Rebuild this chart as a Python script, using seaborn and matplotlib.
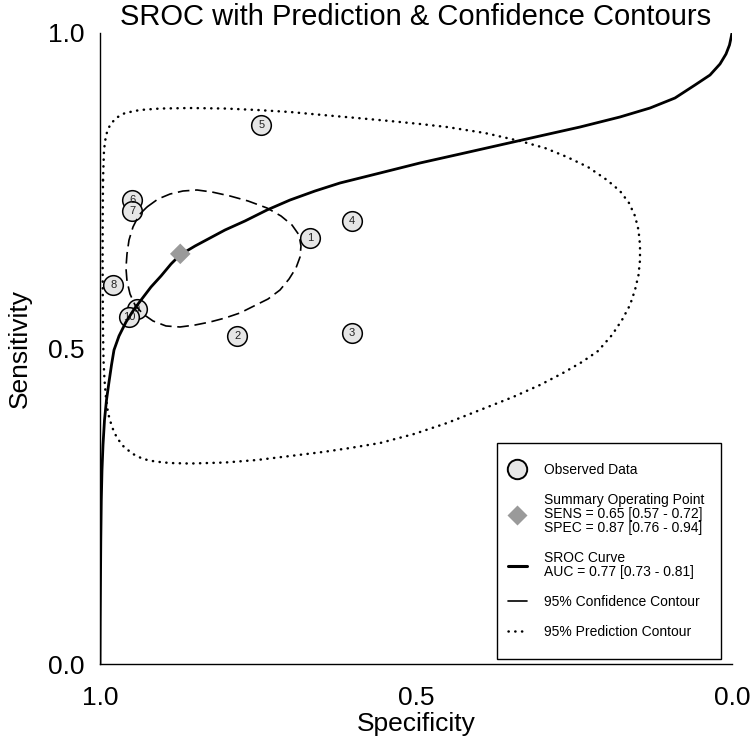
import numpy as np
import pandas as pd
import seaborn as sns
import matplotlib
matplotlib.use("Agg")
import matplotlib.pyplot as plt
from matplotlib.lines import Line2D
from matplotlib.patches import Rectangle

# ---------------- data ----------------
study_ids = ["1", "2", "3", "4", "5", "6", "7", "8", "9", "10"]
study_spec = [0.668, 0.783, 0.601, 0.601, 0.745, 0.949, 0.949, 0.979, 0.942, 0.954]
study_sens = [0.675, 0.520, 0.525, 0.702, 0.854, 0.735, 0.718, 0.601, 0.563, 0.550]

summary_spec = [0.873]
summary_sens = [0.650]

sroc_spec = [1.0, 0.99968, 0.99921, 0.99873, 0.99794, 0.99684, 0.99525, 0.99288,
             0.98972, 0.98576, 0.98180, 0.97785, 0.96994, 0.95886, 0.94620, 0.93354,
             0.91930, 0.90348, 0.88766, 0.87342, 0.84968, 0.82595, 0.80222, 0.77057,
             0.73576, 0.69937, 0.65981, 0.62025, 0.55696, 0.49367, 0.43038, 0.36709,
             0.30380, 0.24051, 0.17722, 0.12975, 0.09019, 0.05854, 0.03481, 0.01899,
             0.00949, 0.00396, 0.00158, 0.0]
sroc_sens = [0.0, 0.0697, 0.1331, 0.1965, 0.2599, 0.3074, 0.3471, 0.3867,
             0.4184, 0.4469, 0.4739, 0.4976, 0.5198, 0.5420, 0.5620, 0.5788,
             0.5975, 0.6149, 0.6339, 0.6482, 0.6624, 0.6751, 0.6878, 0.7021,
             0.7195, 0.7353, 0.7496, 0.7623, 0.7781, 0.7940, 0.8082, 0.8225,
             0.8368, 0.8510, 0.8669, 0.8811, 0.8970, 0.9176, 0.9334, 0.9509,
             0.9667, 0.9810, 0.9921, 1.0]

conf_spec = [0.9256, 0.9082, 0.8892, 0.8687, 0.8465, 0.8228, 0.7943, 0.7658, 0.7358,
             0.7136, 0.6962, 0.6851, 0.6820, 0.6835, 0.6899, 0.7009, 0.7152, 0.7342,
             0.7563, 0.7785, 0.8022, 0.8259, 0.8497, 0.8734, 0.8956, 0.9161, 0.9320,
             0.9446, 0.9525, 0.9573, 0.9589, 0.9573, 0.9541, 0.9478, 0.9383, 0.9256]
conf_sens = [0.7243, 0.7369, 0.7448, 0.7496, 0.7512, 0.7480, 0.7417, 0.7338, 0.7227,
             0.7100, 0.6957, 0.6799, 0.6624, 0.6450, 0.6276, 0.6101, 0.5927, 0.5784,
             0.5674, 0.5563, 0.5483, 0.5420, 0.5372, 0.5341, 0.5357, 0.5436, 0.5547,
             0.5689, 0.5864, 0.6070, 0.6276, 0.6498, 0.6719, 0.6926, 0.7116, 0.7243]

pred_spec = [0.99525, 0.99367, 0.99051, 0.98418, 0.97468, 0.96044, 0.93671, 0.90506,
             0.85759, 0.80222, 0.75158, 0.69937, 0.64715, 0.59335, 0.54114, 0.49367,
             0.45095, 0.39082, 0.33544, 0.29589, 0.26108, 0.22785, 0.19778, 0.17722,
             0.16297, 0.15348, 0.14794, 0.14557, 0.14557, 0.14794, 0.15348, 0.16139,
             0.17405, 0.18987, 0.21203, 0.23734, 0.26741, 0.30380, 0.34652, 0.39873,
             0.45095, 0.50316, 0.55696, 0.60443, 0.64715, 0.69937, 0.75158, 0.80222,
             0.85759, 0.88924, 0.91297, 0.93196, 0.94778, 0.96203, 0.97310, 0.98101,
             0.98734, 0.99051, 0.99288, 0.99446, 0.99525, 0.99557, 0.99589, 0.99573,
             0.99525]
pred_sens = [0.7670, 0.8146, 0.8383, 0.8542, 0.8653, 0.8732, 0.8780, 0.8803,
             0.8811, 0.8803, 0.8780, 0.8748, 0.8700, 0.8653, 0.8605, 0.8558,
             0.8510, 0.8415, 0.8288, 0.8177, 0.8035, 0.7876, 0.7670, 0.7496,
             0.7306, 0.7100, 0.6878, 0.6640, 0.6403, 0.6165, 0.5927, 0.5689,
             0.5452, 0.5214, 0.4960, 0.4786, 0.4612, 0.4422, 0.4231, 0.4025,
             0.3819, 0.3645, 0.3502, 0.3423, 0.3360, 0.3296, 0.3233, 0.3193,
             0.3177, 0.3185, 0.3209, 0.3249, 0.3328, 0.3439, 0.3582, 0.3756,
             0.3978, 0.4216, 0.4501, 0.4818, 0.5293, 0.5769, 0.6403, 0.7036,
             0.7670]

axis_ticks = [1.0, 0.5, 0.0]
axis_tick_labels = ["1.0", "0.5", "0.0"]
legend_labels = [
    "Observed Data",
    "Summary Operating Point\nSENS = 0.65 [0.57 - 0.72]\nSPEC = 0.87 [0.76 - 0.94]",
    "SROC Curve\nAUC = 0.77 [0.73 - 0.81]",
    "95% Confidence Contour",
    "95% Prediction Contour",
]

# ---------------- style ----------------
sns.set_theme(style="white")
plt.rcParams["font.family"] = ["Liberation Sans", "DejaVu Sans"]
plt.rcParams["text.color"] = "black"
plt.rcParams["axes.labelcolor"] = "black"

W, H = 752, 743
fig = plt.figure(figsize=(W / 100, H / 100), dpi=100)
ax = fig.add_axes([100 / W, 1 - 664 / H, 632 / W, 631 / H])

studies = pd.DataFrame({"spec": study_spec, "sens": study_sens, "id": study_ids})
sroc = pd.DataFrame({"spec": sroc_spec, "sens": sroc_sens})
conf = pd.DataFrame({"spec": conf_spec, "sens": conf_sens})
pred = pd.DataFrame({"spec": pred_spec, "sens": pred_sens})
summ = pd.DataFrame({"spec": summary_spec, "sens": summary_sens})

# observed study circles
sns.scatterplot(data=studies, x="spec", y="sens", ax=ax, s=200, color="#e6e6e6",
                edgecolor="black", linewidth=1.1, zorder=2, legend=False)
for _, r in studies.iterrows():
    ax.text(r["spec"], r["sens"], r["id"], ha="center", va="center",
            fontsize=8, color="#222222", zorder=2.5)

# contours and curve
dot_style = (0, (0.1, 2.6))
sns.lineplot(data=pred, x="spec", y="sens", sort=False, estimator=None, ax=ax,
             color="black", lw=1.8, linestyle=dot_style,
             dash_capstyle="round", zorder=3)
sns.lineplot(data=conf, x="spec", y="sens", sort=False, estimator=None, ax=ax,
             color="black", lw=1.2, linestyle=(0, (7.0, 3.4)), zorder=3)
sns.lineplot(data=sroc, x="spec", y="sens", sort=False, estimator=None, ax=ax,
             color="black", lw=2.0, zorder=3.5)

# summary point
sns.scatterplot(data=summ, x="spec", y="sens", ax=ax, marker="D", s=110,
                color="#9a9a9a", edgecolor="none", zorder=4, legend=False)

# axes
ax.set_xlim(1.0, 0.0)
ax.set_ylim(0.0, 1.0)
ax.set_xticks(axis_ticks)
ax.set_xticklabels(axis_tick_labels)
ax.set_yticks(axis_ticks)
ax.set_yticklabels(axis_tick_labels)
ax.tick_params(axis="both", direction="out", length=7.5, width=1.0,
               labelsize=19, colors="black")
ax.tick_params(axis="x", pad=8)
ax.tick_params(axis="y", pad=4)
for s in ["top", "right"]:
    ax.spines[s].set_visible(False)
for s in ["left", "bottom"]:
    ax.spines[s].set_color("black")
    ax.spines[s].set_linewidth(1.0)
ax.grid(False)
ax.set_xlabel("Specificity", fontsize=19, labelpad=1.5, color="black")
ax.set_ylabel("Sensitivity", fontsize=19, labelpad=11, color="black")
ax.set_title("SROC with Prediction & Confidence Contours", fontsize=21, pad=5.5,
             color="black")

# legend box (frame) and legend entries
box = Rectangle((497 / W, 1 - 659 / H), 224 / W, 216 / H, transform=fig.transFigure,
                facecolor="white", edgecolor="black", linewidth=1.0, zorder=5,
                clip_on=False)
ax.add_artist(box)

handles = [
    Line2D([], [], ls="none", marker="o", ms=14, mfc="#e6e6e6", mec="black", mew=1.4),
    Line2D([], [], ls="none", marker="D", ms=10.5, mfc="#9a9a9a", mec="none"),
    Line2D([], [], color="black", lw=2.2),
    Line2D([], [], color="black", lw=1.2),
    Line2D([], [], color="black", lw=1.8, ls=dot_style, dash_capstyle="round"),
]
leg = ax.legend(handles, legend_labels, loc="center",
                bbox_to_anchor=(606 / W, 1 - 551 / H),
                bbox_transform=fig.transFigure, fontsize=10, frameon=False,
                borderpad=0, labelspacing=1.15, handlelength=1.4,
                handletextpad=1.2, borderaxespad=0)
leg.set_zorder(6)
for t in leg.get_texts():
    t.set_linespacing(1.02)
    t.set_color("black")

fig.savefig("out.png", dpi=100)
